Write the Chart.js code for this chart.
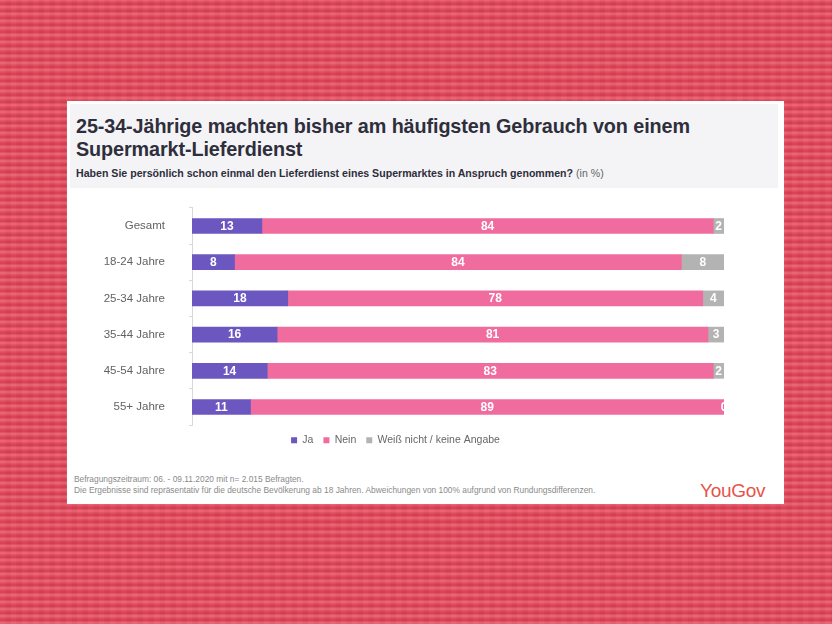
<!DOCTYPE html>
<html>
<head>
<meta charset="utf-8">
<script src="https://cdn.jsdelivr.net/npm/chart.js@4"></script>
<style>
  body { margin:0; width:832px; height:624px; overflow:hidden; font-family:"Liberation Sans", Arial, sans-serif;
    background-color:#e04a5c;
    background-image:
      repeating-linear-gradient(0deg, rgba(255,150,160,0.30) 0px, rgba(255,150,160,0.30) 2px, rgba(190,25,55,0.22) 3px, rgba(190,25,55,0.22) 5px, rgba(255,130,140,0.12) 6px, rgba(255,130,140,0.12) 7px),
      repeating-linear-gradient(90deg, rgba(255,255,255,0.03) 0px, rgba(255,255,255,0.03) 5px, rgba(0,0,0,0.03) 6px, rgba(0,0,0,0.03) 11px);
  }
  #card { position:absolute; left:67px; top:101px; width:717px; height:403px; background:#fff; }
  #head { position:absolute; left:3px; top:3px; width:708px; height:84px; background:#f4f4f6; }
  #title { position:absolute; left:6px; top:11px; font-size:19.8px; font-weight:bold; color:#2e2e3c; line-height:23px; letter-spacing:-0.1px; }
  #sub { position:absolute; left:6px; top:63px; font-size:10.6px; font-weight:bold; color:#2e2e3c; }
  #sub span { font-weight:normal; color:#666; }
  #chartBox { position:absolute; left:0; top:76px; width:717px; height:279px; }
  #foot { position:absolute; left:7px; top:373px; font-size:8.4px; color:#8a8a8a; line-height:11px; }
  #logo { position:absolute; left:633px; top:379px; font-size:19px; color:#e8524a; letter-spacing:-0.3px; }
</style>
</head>
<body>
<div id="card">
  <div id="head">
    <div id="title">25-34-Jährige machten bisher am häufigsten Gebrauch von einem<br>Supermarkt-Lieferdienst</div>
    <div id="sub">Haben Sie persönlich schon einmal den Lieferdienst eines Supermarktes in Anspruch genommen? <span>(in %)</span></div>
  </div>
  <div id="chartBox"><canvas id="chart" width="717" height="279"></canvas></div>
  <div id="foot">Befragungszeitraum: 06. - 09.11.2020 mit n= 2.015 Befragten.<br>Die Ergebnisse sind repräsentativ für die deutsche Bevölkerung ab 18 Jahren. Abweichungen von 100% aufgrund von Rundungsdifferenzen.</div>
  <div id="logo">YouGov</div>
</div>
<script>
// data (in %)
const groups = ["Gesamt", "18-24 Jahre", "25-34 Jahre", "35-44 Jahre", "45-54 Jahre", "55+ Jahre"];
const ja   = [13, 8, 18, 16, 14, 11];
const nein = [84, 84, 78, 81, 83, 89];
const weiss = [2, 8, 4, 3, 2, 0];
const seriesNames = ["Ja", "Nein", "Weiß nicht / keine Angabe"];
const colors = ["#6c56c0", "#f06c9e", "#b3b3b3"];

// each bar fills 100% of the row, as in the original
const sums = groups.map((g, i) => ja[i] + nein[i] + weiss[i]);
const share = arr => arr.map((v, i) => v / sums[i] * 100);
const raw = [ja, nein, weiss];

// value labels inside the segments
const valueLabels = {
  id: "valueLabels",
  afterDatasetsDraw(chart) {
    const ctx = chart.ctx;
    const a = chart.chartArea;
    ctx.save();
    ctx.beginPath();
    ctx.rect(a.left, a.top - 10, a.right - a.left, a.bottom - a.top + 20);
    ctx.clip();
    ctx.font = "bold 12px 'Liberation Sans', Arial, sans-serif";
    ctx.fillStyle = "#fff";
    ctx.textAlign = "center";
    ctx.textBaseline = "middle";
    chart.data.datasets.forEach((ds, d) => {
      chart.getDatasetMeta(d).data.forEach((bar, i) => {
        const x = (bar.x + bar.base) / 2;
        ctx.fillText(raw[d][i], x, bar.y + 0.5);
      });
    });
    ctx.restore();
  }
};

new Chart(document.getElementById("chart"), {
  type: "bar",
  data: {
    labels: groups,
    datasets: [
      { label: seriesNames[0], data: share(ja), backgroundColor: colors[0] },
      { label: seriesNames[1], data: share(nein), backgroundColor: colors[1] },
      { label: seriesNames[2], data: share(weiss), backgroundColor: colors[2] }
    ]
  },
  options: {
    indexAxis: "y",
    responsive: false,
    animation: false,
    barThickness: 15,
    layout: { padding: { top: 8, right: 60, left: 0, bottom: 0 } },
    scales: {
      x: { stacked: true, min: 0, max: 100, display: false },
      y: {
        stacked: true,
        grid: { drawOnChartArea: false, offset: true, tickLength: 3, color: "#d8d8d8" },
        border: { color: "#d8d8d8" },
        ticks: { color: "#626262", font: { size: 11.5, family: "'Liberation Sans', Arial, sans-serif" }, padding: 24 },
        afterFit(scale) { scale.width = 125; }
      }
    },
    plugins: {
      legend: {
        position: "bottom",
        labels: { boxWidth: 6, boxHeight: 6, padding: 10, color: "#666", font: { size: 10.5, family: "'Liberation Sans', Arial, sans-serif" } }
      },
      tooltip: { enabled: false }
    }
  },
  plugins: [valueLabels]
});
</script>
</body>
</html>
